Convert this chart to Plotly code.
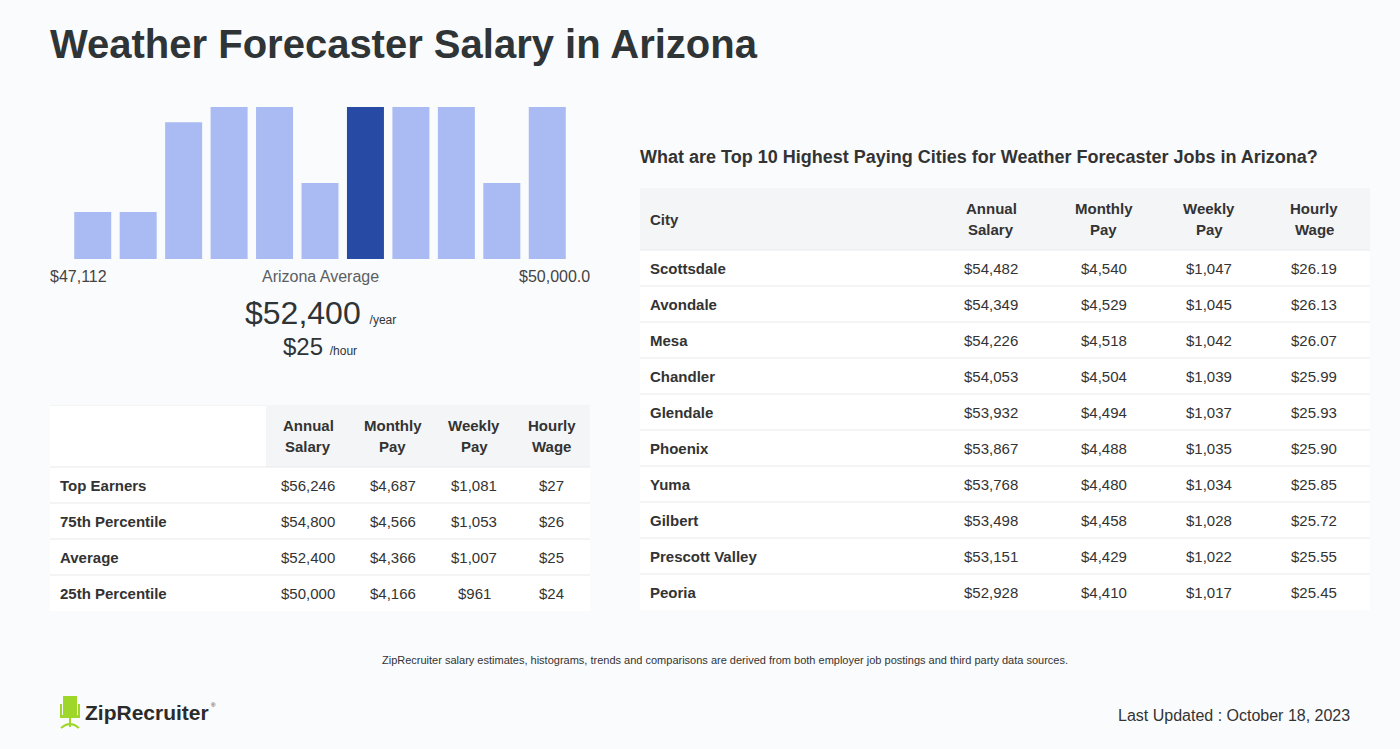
import plotly.graph_objects as go

W, H = 1400, 749
BG = "#fafbfd"
FONT = "Liberation Sans, Arial, Helvetica, sans-serif"
DARK = "#2f3436"
TEXT = "#333333"
LIGHT_BAR = "#a9bbf2"
DARK_BAR = "#274ba5"
HEAD_FILL = "#f4f5f7"
ROW_FILL = "#ffffff"
LINE = "#e8e9ea"

# ---------------- data ----------------
title = "Weather Forecaster Salary in Arizona"
hist_bins = list(range(11))
hist_heights = [3.1, 3.1, 9, 10, 10, 5, 10, 10, 10, 5, 10]
highlight_bin = 6
range_low_label = "$47,112"
range_high_label = "$50,000.0"
avg_label = "Arizona Average"
avg_annual = "$52,400"
avg_hourly = "$25"

summary_header = ["", "Annual|Salary", "Monthly|Pay", "Weekly|Pay", "Hourly|Wage"]
summary_rows = ["Top Earners", "75th Percentile", "Average", "25th Percentile"]
summary_annual = ["$56,246", "$54,800", "$52,400", "$50,000"]
summary_monthly = ["$4,687", "$4,566", "$4,366", "$4,166"]
summary_weekly = ["$1,081", "$1,053", "$1,007", "$961"]
summary_hourly = ["$27", "$26", "$25", "$24"]

cities_title = "What are Top 10 Highest Paying Cities for Weather Forecaster Jobs in Arizona?"
city_header = ["City", "Annual|Salary", "Monthly|Pay", "Weekly|Pay", "Hourly|Wage"]
city_names = ["Scottsdale", "Avondale", "Mesa", "Chandler", "Glendale",
              "Phoenix", "Yuma", "Gilbert", "Prescott Valley", "Peoria"]
city_annual = ["$54,482", "$54,349", "$54,226", "$54,053", "$53,932",
               "$53,867", "$53,768", "$53,498", "$53,151", "$52,928"]
city_monthly = ["$4,540", "$4,529", "$4,518", "$4,504", "$4,494",
                "$4,488", "$4,480", "$4,458", "$4,429", "$4,410"]
city_weekly = ["$1,047", "$1,045", "$1,042", "$1,039", "$1,037",
               "$1,035", "$1,034", "$1,028", "$1,022", "$1,017"]
city_hourly = ["$26.19", "$26.13", "$26.07", "$25.99", "$25.93",
               "$25.90", "$25.85", "$25.72", "$25.55", "$25.45"]

footnote = ("ZipRecruiter salary estimates, histograms, trends and comparisons are derived "
            "from both employer job postings and third party data sources.")
updated = "Last Updated : October 18, 2023"
brand = "ZipRecruiter"


# ---------------- helpers ----------------
def px(x):
    return x / W


def py(y):
    return 1 - y / H


fig = go.Figure()

fig.add_trace(go.Bar(
    x=hist_bins, y=hist_heights,
    marker=dict(color=[DARK_BAR if b == highlight_bin else LIGHT_BAR for b in hist_bins],
                line=dict(width=0)),
    hoverinfo="skip", showlegend=False,
))

annotations = []
shapes = []


def ann(text, x, y, size, color=TEXT, xanchor="center", yanchor="middle",
        xref="paper", yref="paper"):
    annotations.append(dict(text=text, x=x, y=y, xref=xref, yref=yref,
                            showarrow=False, xanchor=xanchor, yanchor=yanchor,
                            borderpad=0, borderwidth=0,
                            font=dict(family=FONT, size=size, color=color)))


# title
ann("<b>" + title + "</b>", px(50), py(44), 40, DARK, xanchor="left")

# histogram labels
ann(range_low_label, px(50), py(276), 16, "#444444", xanchor="left")
ann(avg_label, px(320), py(276), 16, "#5b5f63")
ann(range_high_label, px(590), py(276), 16, "#444444", xanchor="right")
ann(avg_annual + " <span style='font-size:12px'>/year</span>", px(320), py(313), 32, DARK)
ann(avg_hourly + " <span style='font-size:12px'>/hour</span>", px(320), py(346), 24, DARK)


def build_table(xr, yr, col_edges, header, rows, header_blank_first, head_h=62, row_h=36):
    ncols = len(col_edges) - 1
    total_w = col_edges[-1]
    # header fills
    for c in range(ncols):
        fill = ROW_FILL if (c == 0 and header_blank_first) else HEAD_FILL
        shapes.append(dict(type="rect", xref=xr, yref=yr, x0=col_edges[c], x1=col_edges[c + 1],
                           y0=0, y1=head_h, fillcolor=fill, line=dict(width=0), layer="below"))
    if header_blank_first:
        shapes.append(dict(type="line", xref=xr, yref=yr, x0=0, x1=col_edges[1], y0=0, y1=0,
                           line=dict(color=LINE, width=1)))
    shapes.append(dict(type="line", xref=xr, yref=yr, x0=0, x1=total_w, y0=head_h, y1=head_h,
                       line=dict(color=LINE, width=1)))
    # header text
    for c in range(ncols):
        lines = header[c].split("|") if header[c] else []
        if not lines:
            continue
        if c == 0:
            x, xa = 10, "left"
        else:
            x, xa = (col_edges[c] + col_edges[c + 1]) / 2, "center"
        n = len(lines)
        for k, t in enumerate(lines):
            yk = head_h / 2 + (k - (n - 1) / 2) * 21
            ann("<b>" + t + "</b>", x, yk, 15, TEXT, xanchor=xa, xref=xr, yref=yr)
    # body
    nrows = len(rows[0])
    for r in range(nrows):
        y0 = head_h + r * row_h
        shapes.append(dict(type="rect", xref=xr, yref=yr, x0=0, x1=total_w, y0=y0, y1=y0 + row_h,
                           fillcolor=ROW_FILL, line=dict(width=0), layer="below"))
        if r > 0:
            shapes.append(dict(type="line", xref=xr, yref=yr, x0=0, x1=total_w, y0=y0, y1=y0,
                               line=dict(color=LINE, width=1)))
        for c in range(ncols):
            val = rows[c][r]
            if c == 0:
                ann("<b>" + val + "</b>", 10, y0 + row_h / 2, 15, TEXT, xanchor="left",
                    xref=xr, yref=yr)
            else:
                ann(val, (col_edges[c] + col_edges[c + 1]) / 2, y0 + row_h / 2, 15, TEXT,
                    xref=xr, yref=yr)
    return head_h + nrows * row_h


left_edges = [0, 216, 300, 385, 463, 540]
right_edges = [0, 295, 407, 520, 618, 730]

lh = build_table("x2", "y2", left_edges, summary_header,
                 [summary_rows, summary_annual, summary_monthly, summary_weekly, summary_hourly],
                 True)
rh = build_table("x3", "y3", right_edges, city_header,
                 [city_names, city_annual, city_monthly, city_weekly, city_hourly],
                 False)

ann("<b>" + cities_title + "</b>", px(640), py(157), 18, TEXT, xanchor="left")

# footer
ann(footnote, px(725), py(660), 11, TEXT)
ann(updated, px(1350), py(715), 16, TEXT, xanchor="right")
ann("<b>" + brand + "</b>", px(85), py(712), 21, "#2b2b2b", xanchor="left")
ann("®", px(211), py(705), 6, "#2b2b2b", xanchor="left")

# logo chair icon (decoration)
GREEN = "#9fd62a"
def prect(x0, y0, x1, y1):
    shapes.append(dict(type="rect", xref="paper", yref="paper", x0=px(x0), x1=px(x1),
                       y0=py(y1), y1=py(y0), fillcolor=GREEN, line=dict(width=0)))
prect(63, 696, 77, 715)
prect(60, 704, 62, 716)
prect(78, 704, 80, 716)
prect(60, 715, 80, 718)
prect(69, 718, 71, 727)
shapes.append(dict(type="path", xref="paper", yref="paper",
                   path=f"M {px(61)},{py(728)} Q {px(70)},{py(720)} {px(79)},{py(728)}",
                   line=dict(color=GREEN, width=2)))

fig.update_layout(
    width=W, height=H,
    margin=dict(l=0, r=0, t=0, b=0),
    paper_bgcolor=BG, plot_bgcolor="rgba(0,0,0,0)",
    bargap=0.186,
    showlegend=False,
    xaxis=dict(domain=[px(70), px(570)], range=[-0.5, 10.5], visible=False, fixedrange=True),
    yaxis=dict(domain=[py(259), py(107)], range=[0, 10], visible=False, fixedrange=True),
    xaxis2=dict(domain=[px(50), px(590)], range=[0, left_edges[-1]], visible=False, anchor="y2"),
    yaxis2=dict(domain=[py(405 + lh), py(405)], range=[lh, 0], visible=False, anchor="x2"),
    xaxis3=dict(domain=[px(640), px(1370)], range=[0, right_edges[-1]], visible=False, anchor="y3"),
    yaxis3=dict(domain=[py(188 + rh), py(188)], range=[rh, 0], visible=False, anchor="x3"),
    annotations=annotations,
    shapes=shapes,
)

fig.write_html("out.html", config={"displayModeBar": False},
               post_script="document.body.style.margin='0';document.body.style.overflow='hidden';")
